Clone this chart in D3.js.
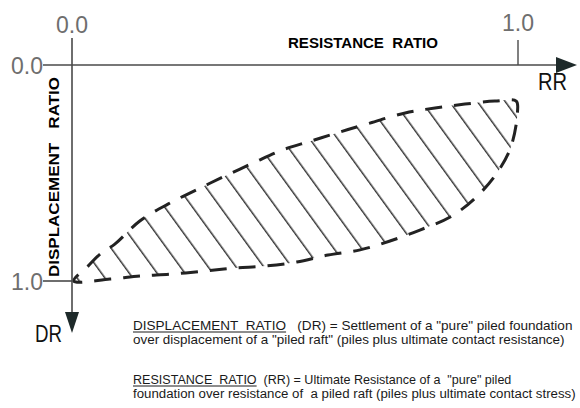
<!DOCTYPE html>
<html>
<head>
<meta charset="utf-8">
<script src="https://cdn.jsdelivr.net/npm/d3@7"></script>
<style>
    body { margin: 0; background: #fff; }
    text { font-family: "Liberation Sans", Arial, sans-serif; white-space: pre; }
    text.note { font-family: "Liberation Sans Narrow", "Arial Narrow", "Liberation Sans", sans-serif; }
</style>
</head>
<body>
<svg id="chart" width="580" height="408"></svg>
<script>

// Upper edge of the hatched zone, left to right (RR, DR)
var upperRR = [0.004, 0.036, 0.063, 0.096, 0.152, 0.215, 0.278, 0.343, 0.406,
               0.471, 0.536, 0.601, 0.668, 0.747, 0.814, 0.881, 0.948, 0.996];
var upperDR = [1.000, 0.931, 0.875, 0.829, 0.722, 0.644, 0.579, 0.514, 0.454,
               0.394, 0.352, 0.310, 0.269, 0.222, 0.199, 0.181, 0.167, 0.167];

// Lower edge of the hatched zone, left to right (end points shared with upper edge)
var lowerRR = [0.085, 0.152, 0.224, 0.298, 0.365, 0.433, 0.504, 0.574, 0.646,
               0.713, 0.780, 0.848, 0.904, 0.951, 0.984, 0.999];
var lowerDR = [0.991, 0.977, 0.968, 0.954, 0.940, 0.931, 0.912, 0.880, 0.856,
               0.815, 0.764, 0.704, 0.616, 0.505, 0.380, 0.213];

// Axis ticks
var tickValues = [0, 1];
var tickLabels = ["0.0", "1.0"];

// Definitions below the chart
var noteUnderlined = ["DISPLACEMENT  RATIO", "", "RESISTANCE  RATIO", ""];
var noteText = [
    "   (DR) = Settlement of a \"pure\" piled foundation",
    "over displacement of a \"piled raft\" (piles plus ultimate contact resistance)",
    "  (RR) = Ultimate Resistance of a  \"pure\" piled",
    "foundation over resistance of  a piled raft (piles plus ultimate contact stress)"
];

var svg = d3.select("#chart");

var x = d3.scaleLinear().domain([0, 1]).range([72, 518]);
var y = d3.scaleLinear().domain([0, 1]).range([65, 281]);

var axisColor = "#4a4a4a";
var labelColor = "#6e6e6e";

// Hatch pattern, lines running down to the right
var defs = svg.append("defs");
var hatch = defs.append("pattern")
    .attr("id", "hatch")
    .attr("patternUnits", "userSpaceOnUse")
    .attr("width", 40)
    .attr("height", 22.5)
    .attr("patternTransform", "rotate(54)");
hatch.append("line")
    .attr("x1", 0).attr("x2", 40)
    .attr("y1", 11).attr("y2", 11)
    .attr("stroke", "#333")
    .attr("stroke-width", 1.6);

// Build closed outline: upper edge left to right, lower edge back right to left
var outline = [];
for (var i = 0; i < upperRR.length; i++) {
    outline.push([upperRR[i], upperDR[i]]);
}
for (var j = lowerRR.length - 1; j >= 0; j--) {
    outline.push([lowerRR[j], lowerDR[j]]);
}

var lens = d3.line()
    .x(function(d) { return x(d[0]); })
    .y(function(d) { return y(d[1]); })
    .curve(d3.curveCatmullRomClosed.alpha(0.5));

svg.append("path")
    .attr("d", lens(outline))
    .attr("fill", "url(#hatch)")
    .attr("stroke", "none");

svg.append("path")
    .attr("d", lens(outline))
    .attr("fill", "none")
    .attr("stroke", "#222")
    .attr("stroke-width", 3)
    .attr("stroke-dasharray", "17,12");

// Axes
svg.append("line")
    .attr("x1", 43).attr("x2", 560)
    .attr("y1", y(0)).attr("y2", y(0))
    .attr("stroke", axisColor).attr("stroke-width", 1.6);

svg.append("line")
    .attr("x1", x(0)).attr("x2", x(0))
    .attr("y1", 38).attr("y2", 316)
    .attr("stroke", axisColor).attr("stroke-width", 1.6);

// tick marks at 1.0
svg.append("line")
    .attr("x1", x(1)).attr("x2", x(1))
    .attr("y1", 40).attr("y2", y(0))
    .attr("stroke", axisColor).attr("stroke-width", 1.4);

svg.append("line")
    .attr("x1", 43).attr("x2", x(0))
    .attr("y1", y(1)).attr("y2", y(1))
    .attr("stroke", axisColor).attr("stroke-width", 1.6);

// Arrow heads
svg.append("path")
    .attr("d", "M577," + y(0) + "L556," + (y(0) - 8) + "L556," + (y(0) + 8) + "Z")
    .attr("fill", "#1e2a2a");

svg.append("path")
    .attr("d", "M" + x(0) + ",333L" + (x(0) - 7) + ",312L" + (x(0) + 7) + ",312Z")
    .attr("fill", "#1e2a2a");

// Tick labels along the top
svg.selectAll(".xtick")
    .data(tickValues)
    .enter().append("text")
    .attr("class", "xtick")
    .attr("x", function(d) { return x(d); })
    .attr("y", function(d, i) { return i == 0 ? 33 : 31; })
    .attr("text-anchor", "middle")
    .attr("font-size", 23)
    .attr("fill", labelColor)
    .text(function(d, i) { return tickLabels[i]; });

// Tick labels on the left
svg.selectAll(".ytick")
    .data(tickValues)
    .enter().append("text")
    .attr("class", "ytick")
    .attr("x", 43)
    .attr("y", function(d) { return y(d) + 9; })
    .attr("text-anchor", "end")
    .attr("font-size", 23)
    .attr("fill", labelColor)
    .text(function(d, i) { return tickLabels[i]; });

// Axis titles
svg.append("text")
    .attr("x", 288).attr("y", 48)
    .attr("font-size", 14)
    .attr("font-weight", "bold")
    .attr("textLength", 150)
    .attr("lengthAdjust", "spacingAndGlyphs")
    .text("RESISTANCE  RATIO");

svg.append("text")
    .attr("transform", "translate(59,177) rotate(-90)")
    .attr("text-anchor", "middle")
    .attr("font-size", 15)
    .attr("font-weight", "bold")
    .attr("textLength", 200)
    .attr("lengthAdjust", "spacingAndGlyphs")
    .text("DISPLACEMENT   RATIO");

svg.append("text")
    .attr("x", 538).attr("y", 90)
    .attr("font-size", 23)
    .attr("fill", "#111")
    .attr("textLength", 29)
    .attr("lengthAdjust", "spacingAndGlyphs")
    .text("RR");

svg.append("text")
    .attr("x", 35).attr("y", 342)
    .attr("font-size", 23)
    .attr("fill", "#111")
    .attr("textLength", 27)
    .attr("lengthAdjust", "spacingAndGlyphs")
    .text("DR");

// Notes below the chart: size each line so it fits its width in the picture
var noteX = 133;
var noteBaseline = [330, 344, 384, 398];
var noteWidth = [440, 432, 379, 443];

for (var k = 0; k < noteText.length; k++) {
    var probe = svg.append("text")
        .attr("class", "note")
        .attr("font-size", 14)
        .text(noteUnderlined[k] + noteText[k]);
    var size = Math.min(15, 14 * noteWidth[k] / probe.node().getComputedTextLength());
    probe.remove();

    var startX = noteX;
    if (noteUnderlined[k] != "") {
        var head = svg.append("text")
            .attr("class", "note")
            .attr("x", noteX)
            .attr("y", noteBaseline[k])
            .attr("font-size", size)
            .attr("fill", "#1a1a1a")
            .text(noteUnderlined[k]);
        var headWidth = head.node().getComputedTextLength();
        svg.append("line")
            .attr("x1", noteX).attr("x2", noteX + headWidth)
            .attr("y1", noteBaseline[k] + 2).attr("y2", noteBaseline[k] + 2)
            .attr("stroke", "#1a1a1a")
            .attr("stroke-width", 1);
        startX = noteX + headWidth;
    }
    svg.append("text")
        .attr("class", "note")
        .attr("x", startX)
        .attr("y", noteBaseline[k])
        .attr("font-size", size)
        .attr("fill", "#1a1a1a")
        .text(noteText[k]);
}

</script>
</body>
</html>
